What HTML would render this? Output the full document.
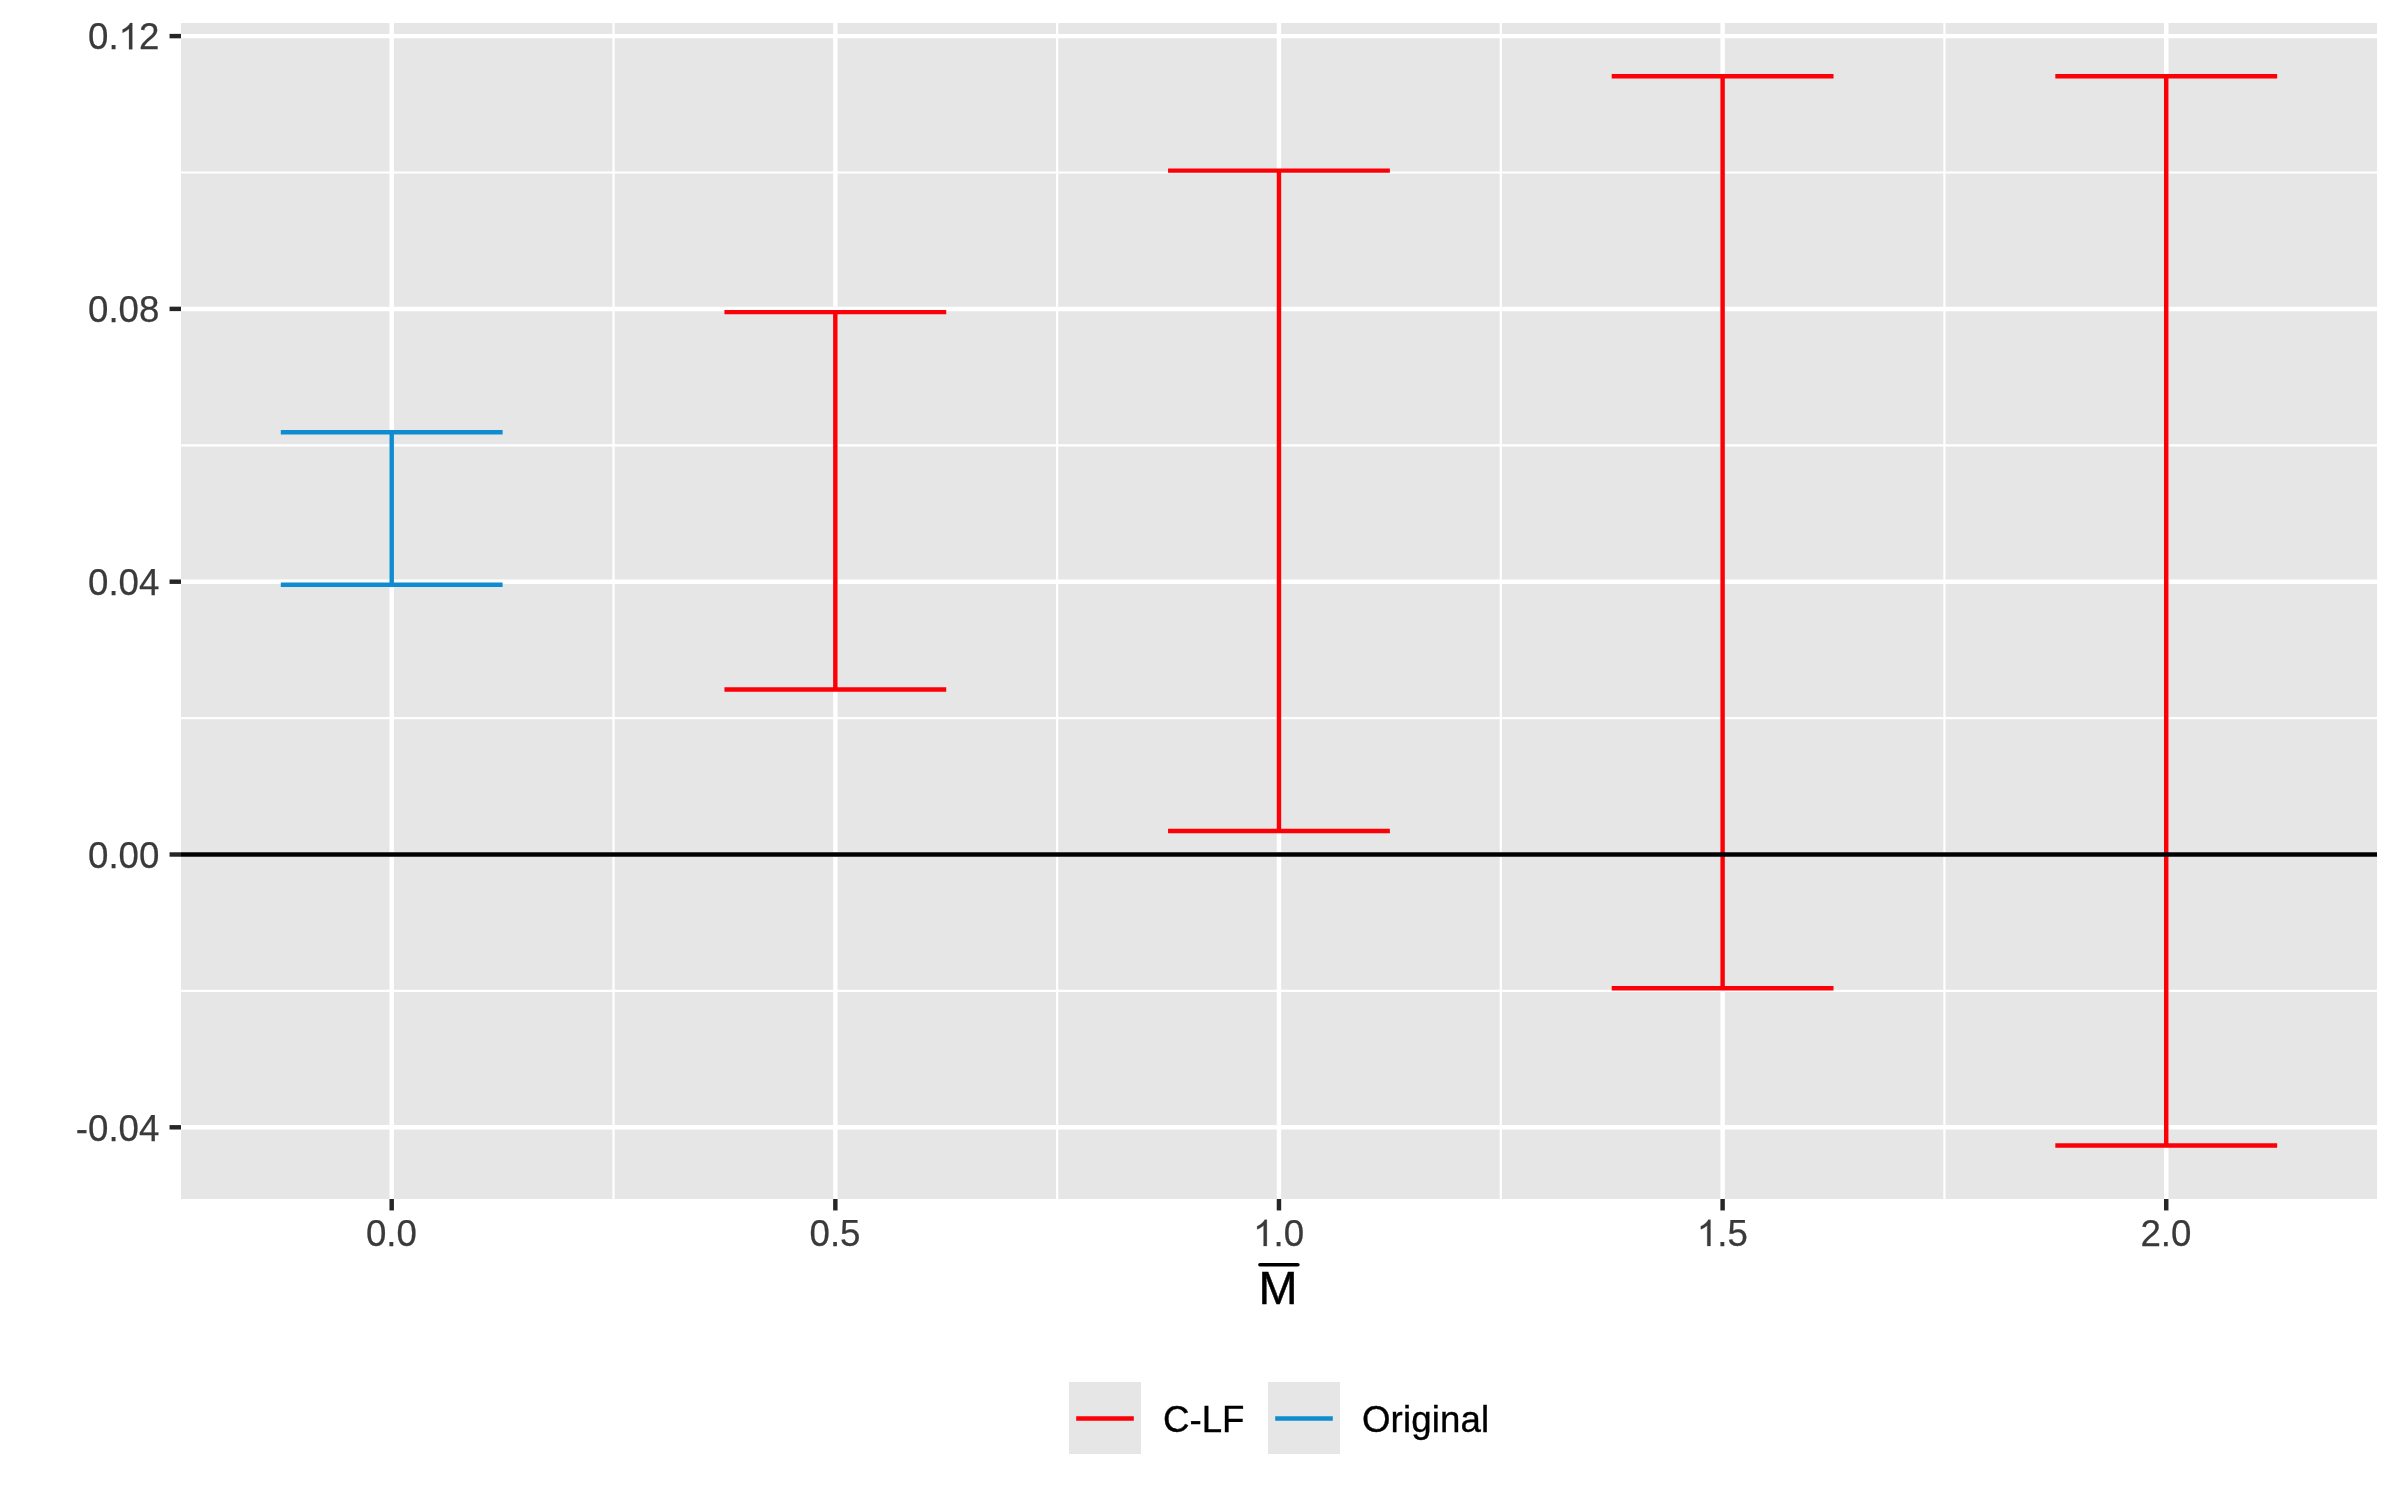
<!DOCTYPE html>
<html><head><meta charset="utf-8"><title>plot</title>
<style>html,body{margin:0;padding:0;background:#fff;}svg{display:block;will-change:transform;}text{font-family:"Liberation Sans",sans-serif;}</style></head><body>
<svg width="2400" height="1500" viewBox="0 0 2400 1500">
<rect x="0" y="0" width="2400" height="1500" fill="#FFFFFF"/>
<rect x="181.0" y="23.0" width="2196.0" height="1176.0" fill="#E6E6E6"/>
<g stroke="#FFFFFF" stroke-width="2.22" fill="none">
<line x1="181.0" x2="2377.0" y1="990.90" y2="990.90"/>
<line x1="181.0" x2="2377.0" y1="718.10" y2="718.10"/>
<line x1="181.0" x2="2377.0" y1="445.30" y2="445.30"/>
<line x1="181.0" x2="2377.0" y1="172.50" y2="172.50"/>
<line y1="23.0" y2="1199.0" x1="613.52" x2="613.52"/>
<line y1="23.0" y2="1199.0" x1="1057.15" x2="1057.15"/>
<line y1="23.0" y2="1199.0" x1="1500.79" x2="1500.79"/>
<line y1="23.0" y2="1199.0" x1="1944.42" x2="1944.42"/>
</g>
<g stroke="#FFFFFF" stroke-width="4.45" fill="none">
<line x1="181.0" x2="2377.0" y1="1127.30" y2="1127.30"/>
<line x1="181.0" x2="2377.0" y1="854.50" y2="854.50"/>
<line x1="181.0" x2="2377.0" y1="581.70" y2="581.70"/>
<line x1="181.0" x2="2377.0" y1="308.90" y2="308.90"/>
<line x1="181.0" x2="2377.0" y1="36.10" y2="36.10"/>
<line y1="23.0" y2="1199.0" x1="391.70" x2="391.70"/>
<line y1="23.0" y2="1199.0" x1="835.34" x2="835.34"/>
<line y1="23.0" y2="1199.0" x1="1278.97" x2="1278.97"/>
<line y1="23.0" y2="1199.0" x1="1722.61" x2="1722.61"/>
<line y1="23.0" y2="1199.0" x1="2166.24" x2="2166.24"/>
</g>
<path d="M280.79,432.30 H502.61 M391.70,432.30 V584.70 M280.79,584.70 H502.61" stroke="#0F8CCF" stroke-width="4.45" fill="none" stroke-linecap="butt"/>
<path d="M724.43,312.10 H946.24 M835.34,312.10 V689.40 M724.43,689.40 H946.24" stroke="#FB0007" stroke-width="4.45" fill="none" stroke-linecap="butt"/>
<path d="M1168.06,170.60 H1389.88 M1278.97,170.60 V831.00 M1168.06,831.00 H1389.88" stroke="#FB0007" stroke-width="4.45" fill="none" stroke-linecap="butt"/>
<path d="M1611.70,76.20 H1833.51 M1722.61,76.20 V988.25 M1611.70,988.25 H1833.51" stroke="#FB0007" stroke-width="4.45" fill="none" stroke-linecap="butt"/>
<path d="M2055.33,76.20 H2277.15 M2166.24,76.20 V1145.40 M2055.33,1145.40 H2277.15" stroke="#FB0007" stroke-width="4.45" fill="none" stroke-linecap="butt"/>
<line x1="181.0" x2="2377.0" y1="854.50" y2="854.50" stroke="#000000" stroke-width="4.45"/>
<g stroke="#262626" stroke-width="4.45" fill="none">
<line x1="169.54" x2="181.0" y1="1127.30" y2="1127.30"/>
<line x1="169.54" x2="181.0" y1="854.50" y2="854.50"/>
<line x1="169.54" x2="181.0" y1="581.70" y2="581.70"/>
<line x1="169.54" x2="181.0" y1="308.90" y2="308.90"/>
<line x1="169.54" x2="181.0" y1="36.10" y2="36.10"/>
<line y1="1199.0" y2="1210.46" x1="391.70" x2="391.70"/>
<line y1="1199.0" y2="1210.46" x1="835.34" x2="835.34"/>
<line y1="1199.0" y2="1210.46" x1="1278.97" x2="1278.97"/>
<line y1="1199.0" y2="1210.46" x1="1722.61" x2="1722.61"/>
<line y1="1199.0" y2="1210.46" x1="2166.24" x2="2166.24"/>
</g>
<text x="75.83" y="1140.55" font-size="36.67px" fill="#3A3A3A" stroke="#3A3A3A" stroke-width="0.25">-0.04</text>
<text x="88.04" y="867.75" font-size="36.67px" fill="#3A3A3A" stroke="#3A3A3A" stroke-width="0.25">0.00</text>
<text x="88.04" y="594.95" font-size="36.67px" fill="#3A3A3A" stroke="#3A3A3A" stroke-width="0.25">0.04</text>
<text x="88.04" y="322.15" font-size="36.67px" fill="#3A3A3A" stroke="#3A3A3A" stroke-width="0.25">0.08</text>
<text x="88.04" y="49.35" font-size="36.67px" fill="#3A3A3A" stroke="#3A3A3A" stroke-width="0.25">0.</text>
<path transform="translate(118.62,49.35) scale(0.017905,-0.017905)" d="M763 0H583V1147Q518 1085 412.5 1023T223 930V1104Q373 1174.5 485.5 1275T645 1470H763Z" fill="#3A3A3A" stroke="#3A3A3A" stroke-width="14.0"/>
<text x="139.01" y="49.35" font-size="36.67px" fill="#3A3A3A" stroke="#3A3A3A" stroke-width="0.25">2</text>
<text x="365.91" y="1246.00" font-size="36.67px" fill="#3A3A3A" stroke="#3A3A3A" stroke-width="0.25">0.0</text>
<text x="809.55" y="1246.00" font-size="36.67px" fill="#3A3A3A" stroke="#3A3A3A" stroke-width="0.25">0.5</text>
<path transform="translate(1253.18,1246.00) scale(0.017905,-0.017905)" d="M763 0H583V1147Q518 1085 412.5 1023T223 930V1104Q373 1174.5 485.5 1275T645 1470H763Z" fill="#3A3A3A" stroke="#3A3A3A" stroke-width="14.0"/>
<text x="1273.57" y="1246.00" font-size="36.67px" fill="#3A3A3A" stroke="#3A3A3A" stroke-width="0.25">.0</text>
<path transform="translate(1696.82,1246.00) scale(0.017905,-0.017905)" d="M763 0H583V1147Q518 1085 412.5 1023T223 930V1104Q373 1174.5 485.5 1275T645 1470H763Z" fill="#3A3A3A" stroke="#3A3A3A" stroke-width="14.0"/>
<text x="1717.21" y="1246.00" font-size="36.67px" fill="#3A3A3A" stroke="#3A3A3A" stroke-width="0.25">.5</text>
<text x="2140.45" y="1246.00" font-size="36.67px" fill="#3A3A3A" stroke="#3A3A3A" stroke-width="0.25">2.0</text>
<text x="1278.0" y="1304.4" font-size="46.9px" fill="#000000" stroke="#000000" stroke-width="0.45" text-anchor="middle">M</text>
<line x1="1259.9" x2="1297.9" y1="1264.8" y2="1264.8" stroke="#000000" stroke-width="3.5" stroke-linecap="round"/>
<rect x="1069.0" y="1382" width="72" height="72" fill="#E6E6E6"/>
<line x1="1076.20" x2="1133.80" y1="1418.45" y2="1418.45" stroke="#FB0007" stroke-width="4.45"/>
<rect x="1268.0" y="1382" width="72" height="72" fill="#E6E6E6"/>
<line x1="1275.20" x2="1332.80" y1="1418.45" y2="1418.45" stroke="#0F8CCF" stroke-width="4.45"/>
<g fill="#000000" stroke="#000000" stroke-width="0.35" font-size="36.67px">
<text x="1163.0" y="1432.2">C-LF</text>
<text x="1361.9" y="1432.2" letter-spacing="0.15">Original</text>
</g>
</svg></body></html>
